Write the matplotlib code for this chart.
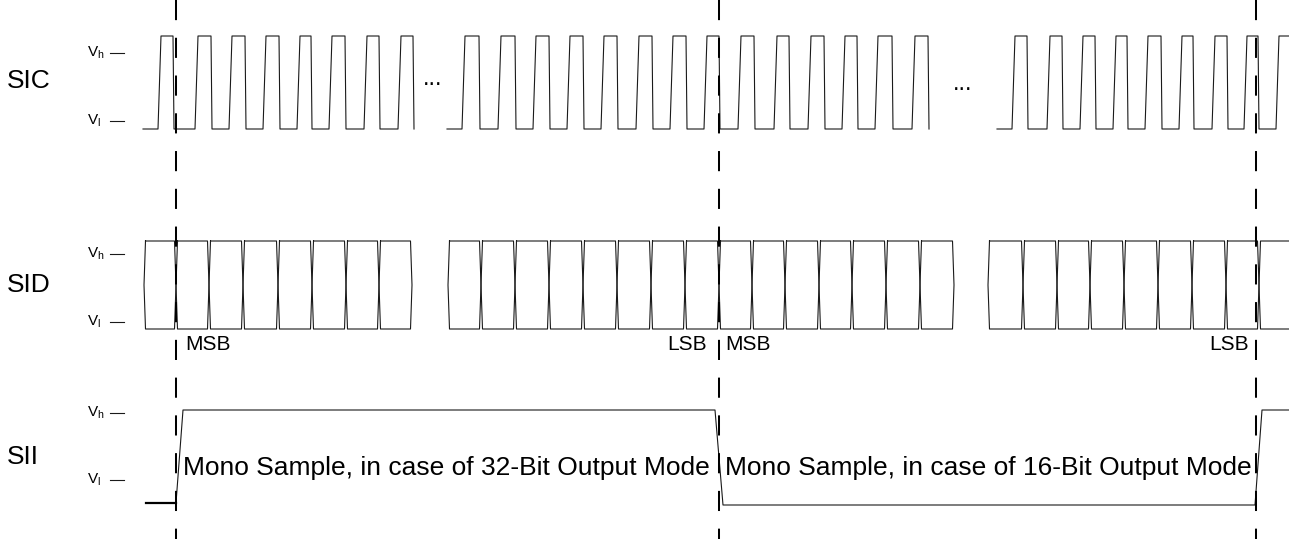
import matplotlib
matplotlib.use('Agg')
import matplotlib.pyplot as plt

plt.rcParams['font.family'] = ['Liberation Sans', 'DejaVu Sans']

# Timing diagram values, in pixel units of the original drawing (x = time).
# SIC clock: one list of rising-edge and falling-edge times per burst.
sic_start = [143, 447, 997]
sic_rise = [[158, 195, 229, 263, 297, 329, 364, 398],
            [462, 498, 533, 567, 601, 636, 670, 704, 738, 774, 808, 842, 875, 912],
            [1012, 1047, 1080, 1113, 1145, 1179, 1212, 1244, 1276]]
sic_fall = [[174, 212, 246, 280, 312, 346, 380, 414],
            [480, 516, 550, 584, 618, 653, 687, 720, 755, 790, 825, 858, 893, 929],
            [1028, 1063, 1096, 1128, 1162, 1194, 1228, 1259]]
sic_end = [414, 929, 1289]
sic_high, sic_low = 36, 129

# SID data: bit boundaries per burst
sid_bits = [[144, 176, 209, 243, 278, 312, 346, 379, 412],
            [448, 481, 515, 549, 583, 617, 651, 685, 719, 752, 785, 819, 852, 886, 920, 954],
            [988, 1023, 1057, 1090, 1124, 1158, 1192, 1226, 1259, 1289]]
sid_high, sid_low = 241, 329

# SII word select
sii_x = [146, 176, 183, 715, 723, 1255, 1262, 1289]
sii_y = [503, 503, 410, 410, 505, 505, 410, 410]

frame_marks = [176, 719, 1256]

rows = ['SIC', 'SID', 'SII']
row_y = [81, 285, 457]
vh_y = [53, 254, 413]
vl_y = [121, 322, 480]

word_labels = ['Mono Sample, in case of 32-Bit Output Mode',
               'Mono Sample, in case of 16-Bit Output Mode']
word_x = [183, 725]
word_y = 468

bit_labels = ['MSB', 'LSB', 'MSB', 'LSB']
bit_label_x = [185, 707, 725, 1249]
bit_label_ha = ['left', 'right', 'left', 'right']
bit_label_y = 345

dots_x = [433, 963]
dots_y = [79, 84]

W, H = 1289, 539
fig = plt.figure(figsize=(W / 100, H / 100), dpi=100)
ax = fig.add_axes([0, 0, 1, 1])
ax.set_xlim(0, W)
ax.set_ylim(H, 0)
ax.axis('off')

lc = '#1a1a1a'
lw = 0.8

# clock bursts
for x0, rises, falls, x1 in zip(sic_start, sic_rise, sic_fall, sic_end):
    xs, ys = [x0], [sic_low]
    for r, f in zip(rises, falls):
        xs += [r, r + 3, f - 1, f]
        ys += [sic_low, sic_high, sic_high, sic_low]
    if len(rises) > len(falls):
        xs += [rises[-1], rises[-1] + 3, x1]
        ys += [sic_low, sic_high, sic_high]
    ax.plot(xs, ys, color=lc, lw=lw)

# data bursts: hexagon shaped bit cells
d = 1.5
sid_mid = (sid_high + sid_low) / 2
for bits in sid_bits:
    last = len(bits) - 1
    for i in range(last):
        a, b = bits[i], bits[i + 1]
        if i + 1 == last and b >= W:
            xs = [W, a + d, a, a + d, W]
            ys = [sid_high, sid_high, sid_mid, sid_low, sid_low]
        else:
            xs = [a + d, b - d, b, b - d, a + d, a, a + d]
            ys = [sid_high, sid_high, sid_mid, sid_low, sid_low, sid_mid, sid_high]
        ax.plot(xs, ys, color=lc, lw=lw)

# word select line
ax.plot(sii_x[:2], sii_y[:2], color='black', lw=1.6)
ax.plot(sii_x[1:], sii_y[1:], color=lc, lw=lw)

# frame marks
for x in frame_marks:
    ax.plot([x, x], [0, H], color='black', lw=1.45, linestyle=(0, (10, 8.75)))

# row names and level marks
for name, y, yh, yl in zip(rows, row_y, vh_y, vl_y):
    ax.text(7, y, name, fontsize=19, va='center', ha='left')
    ax.text(87, yh, r'$\mathregular{V_h}$', fontsize=11, va='center', ha='left')
    ax.text(87, yl, r'$\mathregular{V_l}$', fontsize=11, va='center', ha='left')
    ax.plot([110, 124], [yh, yh], color=lc, lw=lw)
    ax.plot([110, 124], [yl, yl], color=lc, lw=lw)

for txt, x in zip(word_labels, word_x):
    ax.text(x, word_y, txt, fontsize=19, va='center', ha='left')

for txt, x, ha in zip(bit_labels, bit_label_x, bit_label_ha):
    ax.text(x, bit_label_y, txt, fontsize=15, va='center', ha=ha)

for x, y in zip(dots_x, dots_y):
    ax.text(x, y, '...', fontsize=17, va='center', ha='center')

fig.savefig('out.png', dpi=100)
